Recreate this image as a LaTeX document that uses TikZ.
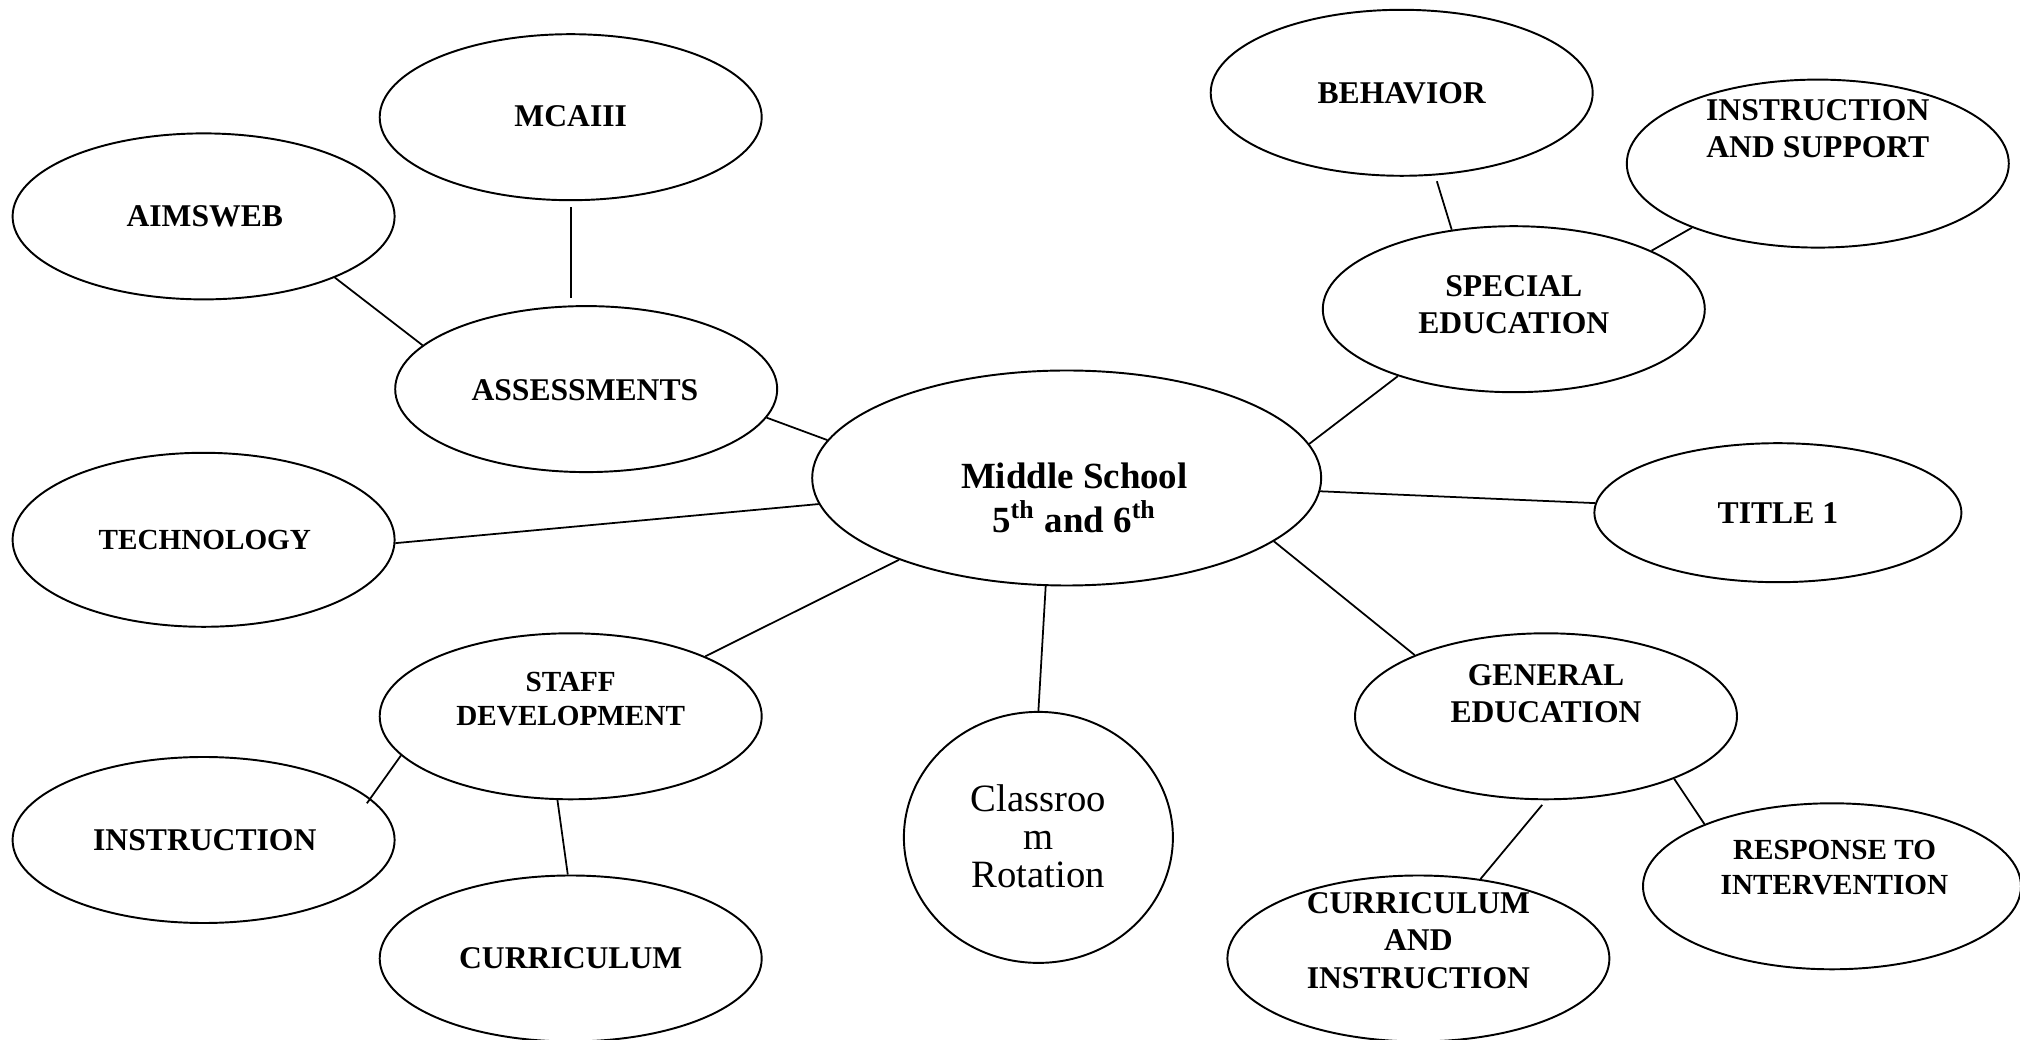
\documentclass[tikz,border=0pt]{standalone}
\usepackage{fontspec}
\setmainfont{Liberation Serif}
\usetikzlibrary{shapes.geometric}
\tikzset{
  bub/.style={ellipse,draw,line width=0.55pt,minimum width=38.2mm,minimum height=16.6mm,inner sep=0pt},
  lbl/.style={align=center,inner sep=0pt,font=\bfseries\fontsize{9}{10.6}\selectfont},
  small lbl/.style={lbl,font=\bfseries\fontsize{8.3}{9.8}\selectfont},
}
\begin{document}
\begin{tikzpicture}[x=1mm,y=-1mm,line width=0.5pt]
  \fill[white] (0,0) rectangle (202,104);
  \useasboundingbox (0,0) rectangle (202,104);
  % bubbles
  \node[bub,minimum width=50.9mm,minimum height=21.5mm] (mid) at (106.67,47.8) {};
  \node[bub] (aims) at (20.36,21.64) {};
  \node[bub] (mca) at (57.07,11.72) {};
  \node[bub] (assess) at (58.62,38.91) {};
  \node[bub,minimum height=17.4mm] (tech) at (20.36,53.98) {};
  \node[bub] (staff) at (57.07,71.63) {};
  \node[bub] (instr) at (20.36,84.0) {};
  \node[bub] (curr) at (57.07,95.85) {};
  \node[bub,minimum width=26.9mm,minimum height=25.1mm] (class) at (103.84,83.74) {};
  \node[bub] (cai) at (141.84,95.85) {};
  \node[bub,minimum width=37.8mm] (rti) at (183.2,88.63) {};
  \node[bub] (gen) at (154.6,71.63) {};
  \node[bub,minimum width=36.7mm,minimum height=13.9mm] (title) at (177.79,51.27) {};
  \node[bub] (spec) at (151.38,30.92) {};
  \node[bub] (behav) at (140.17,9.28) {};
  \node[bub,minimum height=16.8mm] (ias) at (181.78,16.36) {};
  % texts
  \node[lbl,font=\bfseries\fontsize{10.5}{12.6}\selectfont] (midT) at (107.44,49.8) {Middle School\\5\textsuperscript{th} and 6\textsuperscript{th}};
  \node[lbl] (aimsT) at (20.48,21.64) {AIMSWEB};
  \node[lbl] (mcaT) at (57.07,11.59) {MCAIII};
  \node[lbl] (assessT) at (58.49,39.04) {ASSESSMENTS};
  \node[small lbl] (techT) at (20.48,53.98) {TECHNOLOGY};
  \node[small lbl] (staffT) at (57.07,69.89) {STAFF\\DEVELOPMENT};
  \node[lbl] (instrT) at (20.48,84.0) {INSTRUCTION};
  \node[lbl] (currT) at (57.07,95.85) {CURRICULUM};
  \node[lbl,font=\fontsize{11}{10.8}\selectfont] (classT) at (103.84,83.6) {Classroo\\m\\Rotation};
  \node[lbl] (caiT) at (141.84,94.05) {CURRICULUM\\AND\\INSTRUCTION};
  \node[small lbl] (rtiT) at (183.45,86.77) {RESPONSE TO\\INTERVENTION};
  \node[lbl] (genT) at (154.6,69.38) {GENERAL\\EDUCATION};
  \node[lbl] (titleT) at (177.79,51.27) {TITLE 1};
  \node[lbl] (specT) at (151.38,30.47) {SPECIAL\\EDUCATION};
  \node[lbl] (behavT) at (140.17,9.28) {BEHAVIOR};
  \node[lbl] (iasT) at (181.78,12.88) {INSTRUCTION\\AND SUPPORT};
  % links
  \draw (aims.-25) -- (assess.165);
  \draw[shorten <=0.6mm,shorten >=0.7mm] (mca.south) -- (mca.south |- assess.north);
  \draw (assess.-9) -- (mid.171);
  \draw (tech.-1) -- (mid.186);
  \draw (mid.206) -- (staff.24);
  \draw (mid.-101) -- (class.north);
  \draw (mid.-17) -- (gen.155);
  \draw (mid.-3) -- (title.177);
  \draw (mid.8.5) -- (spec.210);
  \draw[shorten >=0.6mm] (spec.128) -- (behav.-68);
  \draw (spec.23) -- (ias.207);
  \draw[shorten >=-0.6mm] (staff.193) -- (instr.14);
  \draw (staff.-99) -- (curr.92);
  \draw[shorten <=0.6mm] (gen.south) -- (cai.52);
  \draw (gen.-26) -- (rti.154);
\end{tikzpicture}
\end{document}
